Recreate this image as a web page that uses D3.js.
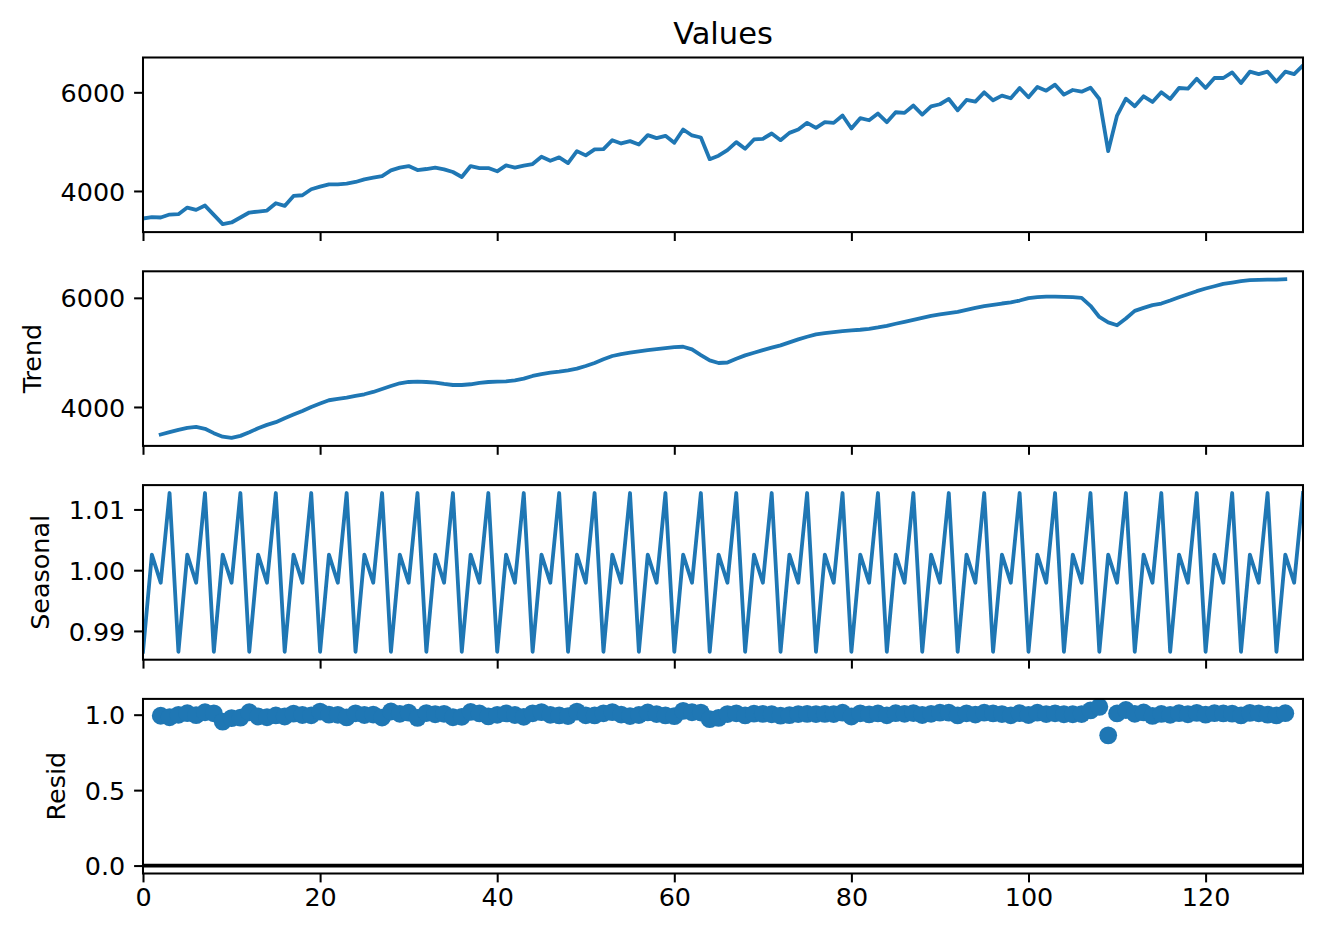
<!DOCTYPE html>
<html><head><meta charset="utf-8">
<script src="https://cdn.jsdelivr.net/npm/d3@7"></script>
<style>body{margin:0;background:#fff} text{font-family:"DejaVu Sans",sans-serif;fill:#000}</style>
</head><body><svg id="c" width="1322" height="938"></svg>
<script>
// ---- data ----
const values = [3441,3468,3462,3522,3529,3664,3617,3704,3515,3327,3361,3462,3563,3583,3603,3751,3697,3899,3913,4034,
4088,4135,4135,4148,4182,4236,4270,4303,4418,4472,4505,4424,4445,4472,4438,4384,4283,4505,4465,4465,
4398,4519,4472,4512,4546,4694,4613,4681,4566,4808,4721,4842,4849,5030,4963,5010,4943,5131,5071,5118,
4977,5246,5125,5084,4645,4715,4828,4990,4855,5044,5057,5165,5030,5178,5246,5381,5280,5394,5381,5529,
5266,5475,5434,5569,5394,5596,5583,5731,5549,5717,5758,5865,5636,5845,5811,6000,5838,5933,5879,6088,
5899,6108,6034,6155,5953,6047,6013,6094,5865,4808,5529,5872,5717,5919,5805,6000,5865,6088,6074,6276,
6088,6290,6290,6404,6189,6418,6370,6418,6216,6418,6370,6545];

const trend = [null,null,3495,3538,3581,3617,3636,3600,3520,3455,3432,3470,3535,3610,3672,3721,3794,3861,3928,4001,
4062,4123,4147,4172,4202,4233,4275,4330,4385,4434,4458,4464,4458,4446,4422,4403,4403,4416,4440,4458,
4464,4470,4489,4519,4568,4604,4629,4647,4671,4702,4751,4806,4873,4934,4970,4994,5019,5043,5061,5080,
5098,5104,5055,4952,4854,4806,4815,4885,4946,4994,5043,5086,5129,5183,5238,5287,5330,5354,5372,5391,
5403,5415,5433,5458,5488,5525,5561,5598,5634,5671,5695,5720,5744,5781,5817,5848,5872,5896,5915,5951,
5994,6012,6024,6024,6018,6012,6000,5854,5650,5550,5498,5622,5762,5817,5866,5896,5951,6012,6067,6122,
6171,6213,6256,6280,6305,6323,6329,6335,6335,6341,null,null];

const seasonal = [
0.98657,1.00257,0.99794,1.0127, 0.98657,1.00257,0.99794,1.0127, 0.98657,1.00257,0.99794,1.0127,
0.98657,1.00257,0.99794,1.0127, 0.98657,1.00257,0.99794,1.0127, 0.98657,1.00257,0.99794,1.0127,
0.98657,1.00257,0.99794,1.0127, 0.98657,1.00257,0.99794,1.0127, 0.98657,1.00257,0.99794,1.0127,
0.98657,1.00257,0.99794,1.0127, 0.98657,1.00257,0.99794,1.0127, 0.98657,1.00257,0.99794,1.0127,
0.98657,1.00257,0.99794,1.0127, 0.98657,1.00257,0.99794,1.0127, 0.98657,1.00257,0.99794,1.0127,
0.98657,1.00257,0.99794,1.0127, 0.98657,1.00257,0.99794,1.0127, 0.98657,1.00257,0.99794,1.0127,
0.98657,1.00257,0.99794,1.0127, 0.98657,1.00257,0.99794,1.0127, 0.98657,1.00257,0.99794,1.0127,
0.98657,1.00257,0.99794,1.0127, 0.98657,1.00257,0.99794,1.0127, 0.98657,1.00257,0.99794,1.0127,
0.98657,1.00257,0.99794,1.0127, 0.98657,1.00257,0.99794,1.0127, 0.98657,1.00257,0.99794,1.0127,
0.98657,1.00257,0.99794,1.0127, 0.98657,1.00257,0.99794,1.0127, 0.98657,1.00257,0.99794,1.0127,
0.98657,1.00257,0.99794,1.0127, 0.98657,1.00257,0.99794,1.0127, 0.98657,1.00257,0.99794,1.0127];

const resid = [null,null,0.993,0.983,0.999,1.010,0.997,1.016,1.009,0.954,0.977,0.980,1.016,0.988,0.983,0.995,0.988,1.007,0.998,0.996,
1.020,1.000,0.999,0.982,1.009,0.998,1.001,0.981,1.021,1.006,1.013,0.979,1.011,1.003,1.006,0.983,0.986,1.018,1.008,0.989,
0.999,1.008,0.998,0.986,1.009,1.017,0.999,0.995,0.991,1.020,0.996,0.995,1.009,1.017,1.001,0.991,0.998,1.015,1.004,0.995,
0.990,1.025,1.016,1.014,0.970,0.979,1.004,1.009,0.995,1.007,1.005,1.003,0.994,0.997,1.004,1.005,1.004,1.005,1.004,1.013,
0.988,1.009,1.002,1.008,0.996,1.010,1.006,1.011,0.998,1.006,1.013,1.013,0.995,1.009,1.001,1.013,1.008,1.004,0.996,1.010,
0.998,1.013,1.004,1.009,1.003,1.003,1.004,1.028,1.052,0.863,1.008,1.031,1.006,1.015,0.992,1.005,0.999,1.010,1.003,1.012,
1.000,1.010,1.008,1.007,0.995,1.012,1.009,1.000,0.995,1.010,null,null];

const xTicks = [0,20,40,60,80,100,120];
const valuesTicks = [4000,6000];
const trendTicks = [4000,6000];
const seasonalTicks = [0.99,1.00,1.01];
const residTicks = [0.0,0.5,1.0];
const titleText = "Values";

// ---- layout ----
const svg = d3.select("#c");
const W = 1322, H = 938;
const left = 143, right = 1303;
const panelTop = [57.5, 271.3, 485.1, 698.9];
const panelH = 174.6;
const DPI = 183, pt = v => v * DPI / 72;
const tickFont = pt(10), titleFont = pt(12);
const tickLen = pt(3.5), tickPad = pt(3.5);
const blue = "#1f77b4";

svg.append("rect").attr("width", W).attr("height", H).attr("fill", "#fff");

const x = d3.scaleLinear().domain([0, values.length - 1]).range([left, right]);

const panels = [
  {data: values, kind: "line", ticks: valuesTicks, fmt: d3.format("d")},
  {data: trend, kind: "line", ticks: trendTicks, fmt: d3.format("d"), label: "Trend"},
  {data: seasonal, kind: "line", ticks: seasonalTicks, fmt: d3.format(".2f"), label: "Seasonal"},
  {data: resid, kind: "dots", ticks: residTicks, fmt: d3.format(".1f"), label: "Resid", zero: true}
];

panels.forEach((p, k) => {
  const top = panelTop[k], bottom = top + panelH;
  const vals = p.data.filter(v => v != null);
  let lo = d3.min(vals), hi = d3.max(vals);
  if (p.zero) { lo = Math.min(lo, 0); hi = Math.max(hi, 0); }
  const pad = (hi - lo) * 0.05;
  const y = d3.scaleLinear().domain([lo - pad, hi + pad]).range([bottom, top]);

  const clipId = "clip" + k;
  svg.append("clipPath").attr("id", clipId).append("rect")
    .attr("x", left).attr("y", top).attr("width", right - left).attr("height", panelH);
  const g = svg.append("g").attr("clip-path", `url(#${clipId})`);

  if (p.zero) {
    g.append("line").attr("x1", x(0)).attr("x2", x(values.length - 1))
      .attr("y1", y(0)).attr("y2", y(0)).attr("stroke", "#000").attr("stroke-width", pt(1.5));
  }
  if (p.kind === "line") {
    const line = d3.line().defined(d => d != null).x((d, i) => x(i)).y(d => y(d));
    g.append("path").datum(p.data).attr("d", line).attr("fill", "none")
      .attr("stroke", blue).attr("stroke-width", pt(1.5))
      .attr("stroke-linejoin", "round").attr("stroke-linecap", "square");
  } else {
    g.selectAll("circle").data(p.data.map((v, i) => ({v, i})).filter(d => d.v != null))
      .join("circle").attr("cx", d => x(d.i)).attr("cy", d => y(d.v))
      .attr("r", pt(7) / 2).attr("fill", blue);
  }

  // y axis
  const ya = svg.append("g").attr("transform", `translate(${left},0)`)
    .call(d3.axisLeft(y).tickValues(p.ticks).tickFormat(p.fmt).tickSize(tickLen).tickPadding(tickPad).tickSizeOuter(0));
  ya.select(".domain").remove();
  ya.selectAll("line").attr("stroke", "#000").attr("stroke-width", pt(0.8));
  ya.selectAll("text").attr("font-size", tickFont).attr("font-family", "DejaVu Sans").attr("fill", "#000").attr("dy", "0.36em");

  // x axis
  const xa = svg.append("g").attr("transform", `translate(0,${bottom})`)
    .call(d3.axisBottom(x).tickValues(xTicks).tickFormat(k === panels.length - 1 ? d3.format("d") : () => "")
      .tickSize(tickLen).tickPadding(tickPad - 3).tickSizeOuter(0));
  xa.select(".domain").remove();
  xa.selectAll("line").attr("stroke", "#000").attr("stroke-width", pt(0.8));
  xa.selectAll("text").attr("font-size", tickFont).attr("font-family", "DejaVu Sans").attr("fill", "#000");

  // frame
  svg.append("rect").attr("x", left).attr("y", top).attr("width", right - left).attr("height", panelH)
    .attr("fill", "none").attr("stroke", "#000").attr("stroke-width", pt(0.8));

  // y label
  if (p.label) {
    const lefts = ya.selectAll("text").nodes().map(n => n.getBoundingClientRect().left);
    const lx = d3.min(lefts) - pt(4) - tickFont * 1.17 / 2 - 4;
    svg.append("text").attr("transform", `translate(${lx},${(top + bottom) / 2}) rotate(-90)`)
      .attr("text-anchor", "middle").attr("dominant-baseline", "central")
      .attr("font-size", tickFont).text(p.label);
  }
  if (k === 0) {
    svg.append("text").attr("x", (left + right) / 2).attr("y", top - pt(6) + 1.5)
      .attr("text-anchor", "middle").attr("font-size", titleFont).text(titleText);
  }
});
</script></body></html>
